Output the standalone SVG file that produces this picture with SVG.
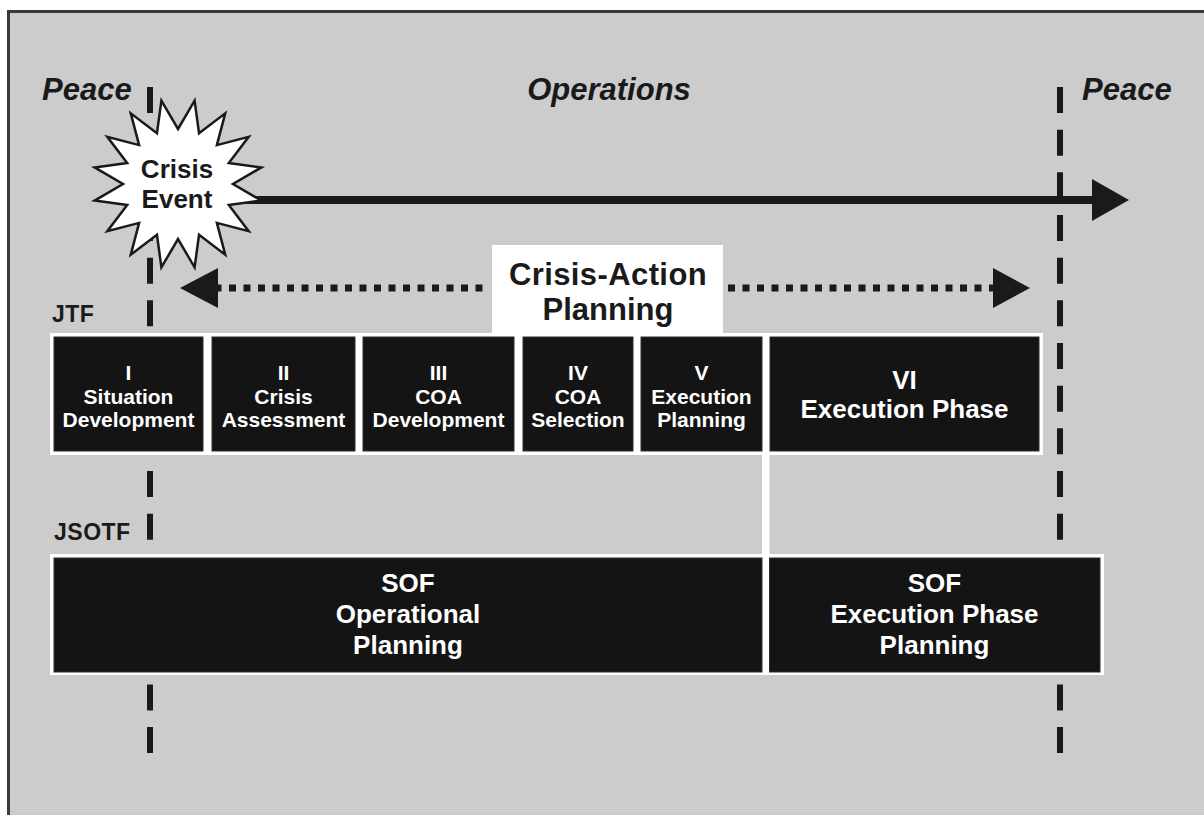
<svg xmlns="http://www.w3.org/2000/svg" width="1204" height="815" viewBox="0 0 1204 815">
<style>
text{font-family:"Liberation Sans",Arial,Helvetica,sans-serif;font-weight:bold;}
.era{font-size:31px;font-style:italic;fill:#1a1a1a;}
.lbl{font-size:23px;fill:#1a1a1a;letter-spacing:0.5px;}
.bt{font-size:21px;fill:#ffffff;text-anchor:middle;}
.bt2{font-size:26px;fill:#ffffff;text-anchor:middle;}
.blk{fill:#141414;stroke:#2e2e2e;stroke-width:1;}
.wbg{fill:#ffffff;}
.dash{stroke:#1a1a1a;stroke-width:6;stroke-dasharray:26 16.67;fill:none;}
.dot{stroke:#1a1a1a;stroke-width:7;stroke-dasharray:7 7.5;fill:none;}
.head{fill:#1a1a1a;}
</style>
<rect x="0" y="0" width="1204" height="815" fill="#ffffff"/>
<rect x="8.5" y="11.5" width="1210" height="820" fill="#cccccc" stroke="#3a3a3a" stroke-width="3"/>

<g id="connectors">
  <line class="dash" x1="150" y1="87" x2="150" y2="760"/>
  <line class="dash" x1="1060" y1="87" x2="1060" y2="760"/>
  <line x1="180" y1="200" x2="1094" y2="200" stroke="#1a1a1a" stroke-width="8"/>
  <polygon class="head" points="1092,179 1129,200 1092,221"/>
  <line class="dot" x1="214.5" y1="288" x2="488" y2="288"/>
  <polygon class="head" points="218,268 180,288 218,308"/>
  <line class="dot" x1="728" y1="288" x2="996" y2="288"/>
  <polygon class="head" points="993,268 1030,288 993,308"/>
</g>

<g id="era-labels">
  <text class="era" x="42" y="100">Peace</text>
  <text class="era" x="609" y="100" text-anchor="middle">Operations</text>
  <text class="era" x="1082" y="100">Peace</text>
</g>

<g id="crisis-event">
  <path d="M178,129 L194.58,100.63 L199.05,133.19 L225.23,113.32 L216.89,145.11 L248.68,136.77 L228.81,162.95 L261.37,167.42 L233,184 L261.37,200.58 L228.81,205.05 L248.68,231.23 L216.89,222.89 L225.23,254.68 L199.05,234.81 L194.58,267.37 L178,239 L161.42,267.37 L156.95,234.81 L130.77,254.68 L139.11,222.89 L107.32,231.23 L127.19,205.05 L94.63,200.58 L123,184 L94.63,167.42 L127.19,162.95 L107.32,136.77 L139.11,145.11 L130.77,113.32 L156.95,133.19 L161.42,100.63 Z" fill="#ffffff" stroke="#1a1a1a" stroke-width="2.5" stroke-linejoin="miter"/>
  <text x="177" y="178" font-size="26" fill="#1a1a1a" text-anchor="middle">Crisis</text>
  <text x="177" y="208" font-size="26" fill="#1a1a1a" text-anchor="middle">Event</text>
</g>

<g id="cap-label">
  <rect class="wbg" x="492" y="245" width="231" height="90"/>
  <text x="608" y="285" font-size="31" fill="#1a1a1a" text-anchor="middle" letter-spacing="0.4">Crisis-Action</text>
  <text x="608" y="320" font-size="31" fill="#1a1a1a" text-anchor="middle">Planning</text>
</g>

<g id="row-labels">
  <text class="lbl" x="52" y="322">JTF</text>
  <text class="lbl" x="54" y="540">JSOTF</text>
</g>

<g id="jtf-row">
  <rect class="wbg" x="50" y="333" width="993" height="122"/>
  <rect class="wbg" x="762" y="450" width="7.5" height="110"/>
</g>

<g id="phase-1">
  <rect class="blk" x="54" y="337" width="149" height="114"/>
  <text class="bt" x="128.5" y="380">I</text>
  <text class="bt" x="128.5" y="403.5">Situation</text>
  <text class="bt" x="128.5" y="427">Development</text>
</g>
<g id="phase-2">
  <rect class="blk" x="212" y="337" width="143" height="114"/>
  <text class="bt" x="283.5" y="380">II</text>
  <text class="bt" x="283.5" y="403.5">Crisis</text>
  <text class="bt" x="283.5" y="427">Assessment</text>
</g>
<g id="phase-3">
  <rect class="blk" x="363" y="337" width="151" height="114"/>
  <text class="bt" x="438.5" y="380">III</text>
  <text class="bt" x="438.5" y="403.5">COA</text>
  <text class="bt" x="438.5" y="427">Development</text>
</g>
<g id="phase-4">
  <rect class="blk" x="523" y="337" width="110" height="114"/>
  <text class="bt" x="578" y="380">IV</text>
  <text class="bt" x="578" y="403.5">COA</text>
  <text class="bt" x="578" y="427">Selection</text>
</g>
<g id="phase-5">
  <rect class="blk" x="641" y="337" width="121" height="114"/>
  <text class="bt" x="701.5" y="380">V</text>
  <text class="bt" x="701.5" y="403.5">Execution</text>
  <text class="bt" x="701.5" y="427">Planning</text>
</g>
<g id="phase-6">
  <rect class="blk" x="770" y="337" width="269" height="114"/>
  <text class="bt2" x="904.5" y="389">VI</text>
  <text class="bt2" x="904.5" y="418">Execution Phase</text>
</g>

<g id="jsotf-row">
  <rect class="wbg" x="50" y="554" width="1054" height="121"/>
</g>
<g id="sof-operational">
  <rect class="blk" x="54" y="558" width="708" height="114"/>
  <text class="bt2" x="408" y="592">SOF</text>
  <text class="bt2" x="408" y="623">Operational</text>
  <text class="bt2" x="408" y="654">Planning</text>
</g>
<g id="sof-execution">
  <rect class="blk" x="769.5" y="558" width="330.5" height="114"/>
  <text class="bt2" x="934.5" y="592">SOF</text>
  <text class="bt2" x="934.5" y="623">Execution Phase</text>
  <text class="bt2" x="934.5" y="654">Planning</text>
</g>
</svg>
